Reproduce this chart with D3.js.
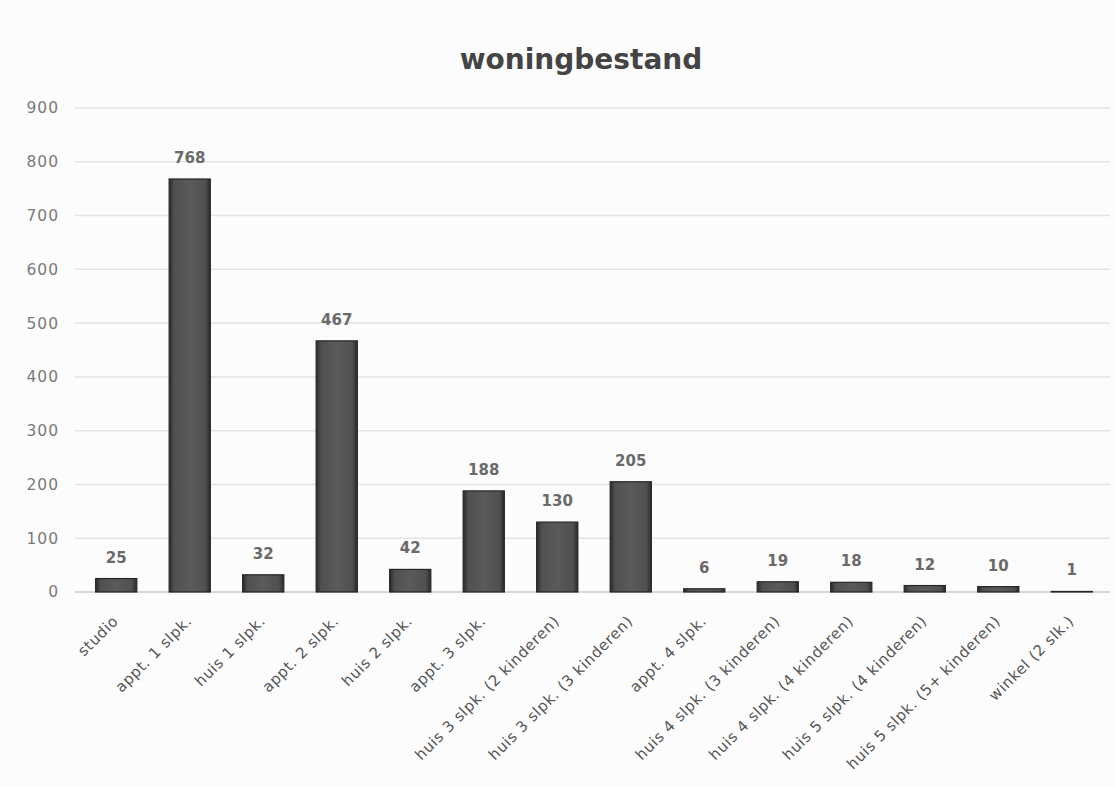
<!DOCTYPE html>
<html><head><meta charset="utf-8">
<script src="https://cdn.jsdelivr.net/npm/d3@7"></script>
<style>body{margin:0;background:#fcfcfc;}svg{display:block;}</style>
</head><body>
<script>
const categories = ["studio","appt. 1 slpk.","huis 1 slpk.","appt. 2 slpk.","huis 2 slpk.","appt. 3 slpk.","huis 3 slpk. (2 kinderen)","huis 3 slpk. (3 kinderen)","appt. 4 slpk.","huis 4 slpk. (3 kinderen)","huis 4 slpk. (4 kinderen)","huis 5 slpk. (4 kinderen)","huis 5 slpk. (5+ kinderen)","winkel (2 slk.)"];
const values = [25,768,32,467,42,188,130,205,6,19,18,12,10,1];
const yTicks = [0,100,200,300,400,500,600,700,800,900];
const title = "woningbestand";

const W = 1115, H = 787;
const margin = {left: 78, right: 5, top: 108, bottom: 195};
const svg = d3.select("body").append("svg").attr("width", W).attr("height", H);
const font = "'DejaVu Sans', 'Open Sans', sans-serif";

const x = d3.scaleBand().domain(categories).range([margin.left, W - margin.right]).paddingInner(0.44).paddingOuter(0.24);
const y = d3.scaleLinear().domain([0, 900]).range([H - margin.bottom, margin.top]);

const defs = svg.append("defs");
const grad = defs.append("linearGradient").attr("id","barg").attr("x1","0").attr("x2","1").attr("y1","0").attr("y2","0");
grad.append("stop").attr("offset","0").attr("stop-color","#2a2a2a");
grad.append("stop").attr("offset","0.12").attr("stop-color","#505050");
grad.append("stop").attr("offset","0.5").attr("stop-color","#5a5a5a");
grad.append("stop").attr("offset","0.88").attr("stop-color","#505050");
grad.append("stop").attr("offset","1").attr("stop-color","#2a2a2a");

// gridlines
svg.append("g").selectAll("line").data(yTicks).join("line")
  .attr("x1", margin.left - 3).attr("x2", W - margin.right)
  .attr("y1", d => y(d)).attr("y2", d => y(d))
  .attr("stroke", d => d === 0 ? "#cdcdcd" : "#e3e3e3").attr("stroke-width", 1.5);

// y axis labels
const yAxis = d3.axisLeft(y).tickValues(yTicks).tickSize(0).tickPadding(19);
const ga = svg.append("g").attr("transform", `translate(${margin.left},0)`).call(yAxis);
ga.select(".domain").remove();
ga.selectAll("text").attr("font-family", font).attr("font-size", 15.5).attr("fill", "#7a7a7a")
  .attr("letter-spacing", 1);

// bars
svg.append("g").selectAll("rect").data(values).join("rect")
  .attr("x", (d,i) => x(categories[i]))
  .attr("y", d => y(d))
  .attr("width", x.bandwidth())
  .attr("height", d => y(0) - y(d))
  .attr("fill", "url(#barg)")
  .attr("stroke", "#262626").attr("stroke-width", 1.2);

// value labels
svg.append("g").selectAll("text").data(values).join("text")
  .attr("x", (d,i) => x(categories[i]) + x.bandwidth()/2)
  .attr("y", d => y(d) - 16)
  .attr("text-anchor", "middle")
  .attr("font-family", font).attr("font-size", 15).attr("font-weight", "bold")
  .attr("fill", "#6a6a6a")
  .text(d => d);

// x axis labels
const xAxis = d3.axisBottom(x).tickSize(0).tickPadding(0);
const gx = svg.append("g").attr("transform", `translate(0,${y(0)})`).call(xAxis);
gx.select(".domain").remove();
gx.selectAll("text")
  .attr("font-family", font).attr("font-size", 15).attr("fill", "#555")
  .attr("letter-spacing", 0.6)
  .attr("text-anchor", "end").attr("dy", null).attr("y", 0)
  .attr("transform", "translate(3,30) rotate(-45)");

// title
svg.append("text").attr("x", 581).attr("y", 69).attr("text-anchor", "middle")
  .attr("font-family", font).attr("font-size", 28).attr("font-weight", "bold")
  .attr("fill", "#444").text(title);
</script>
</body></html>
